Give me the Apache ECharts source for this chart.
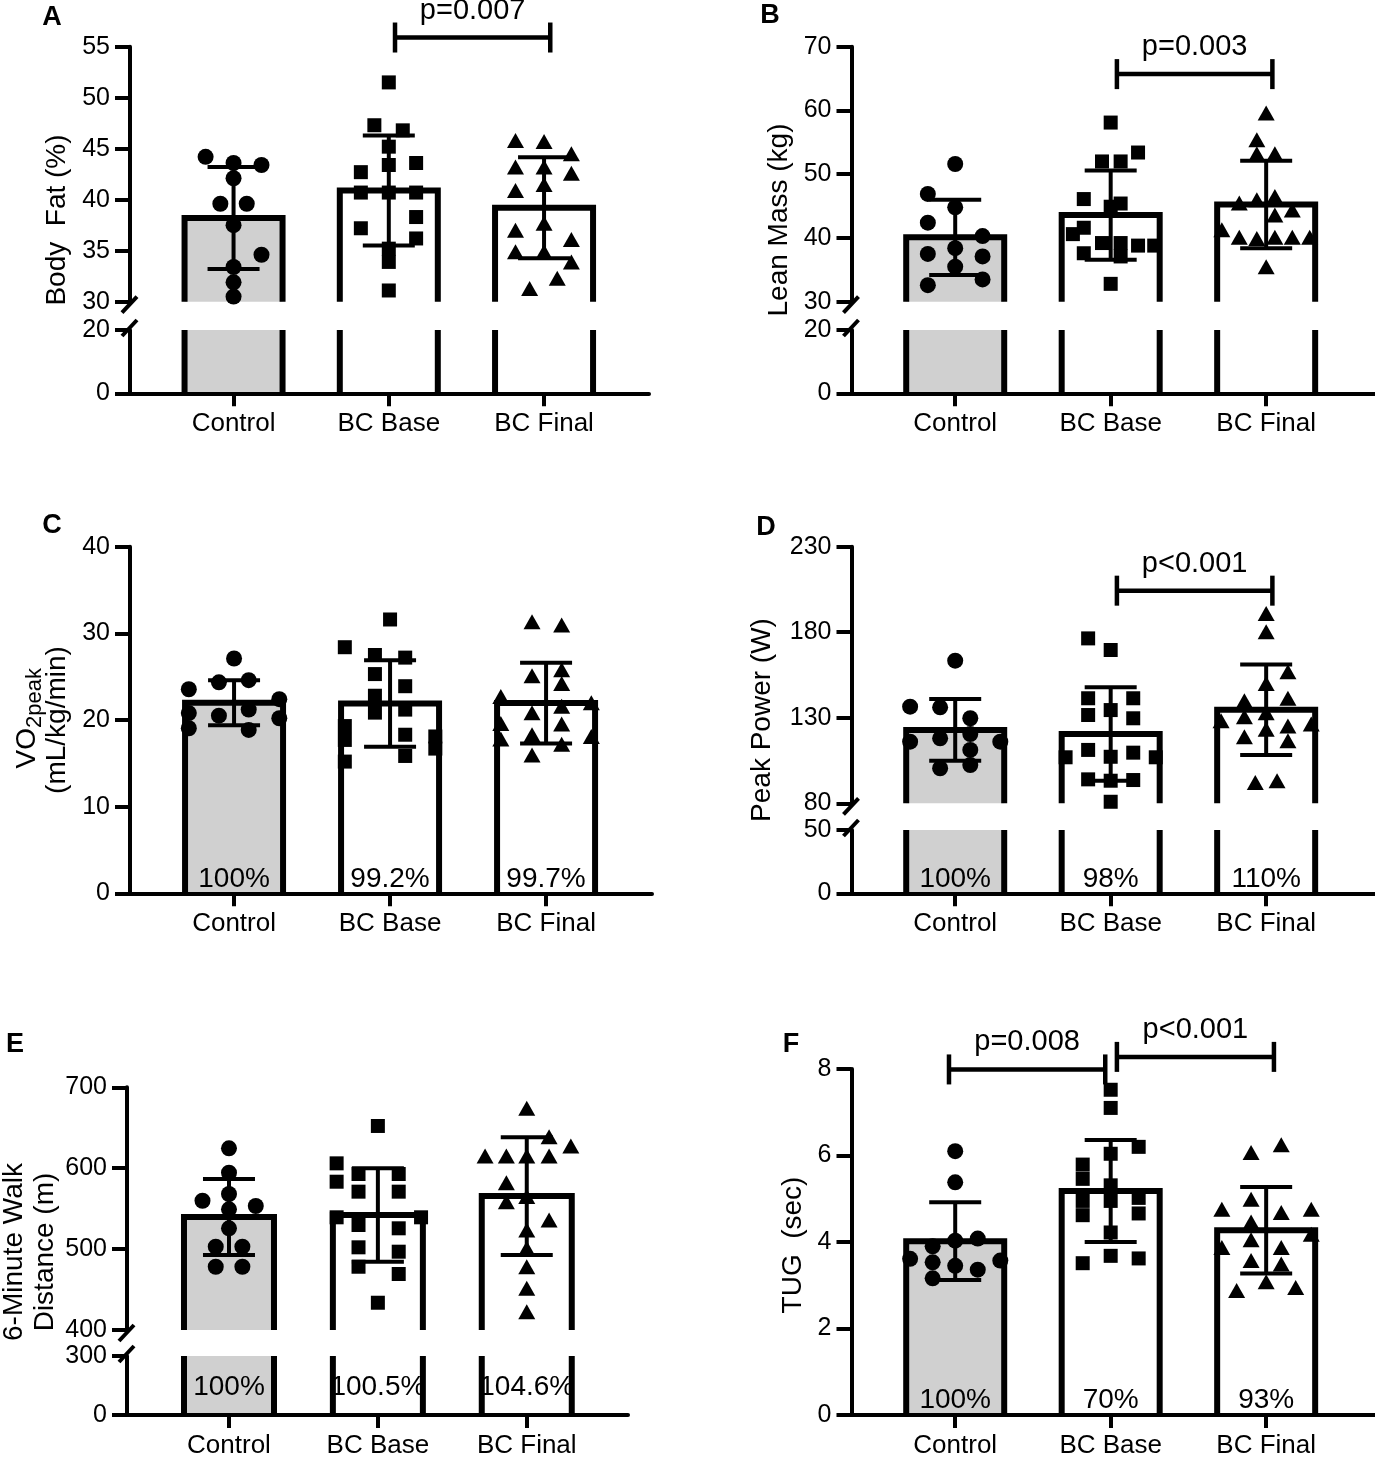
<!DOCTYPE html>
<html>
<head>
<meta charset="utf-8">
<title>Body composition and fitness</title>
<style>
    html, body { margin: 0; padding: 0; background: #fff; }
    #container { width: 1375px; height: 1459px; }
</style>
</head>
<body>
<div id="container"></div>
<script src="https://cdn.jsdelivr.net/npm/echarts@6.0.0/dist/echarts.min.js"></script>
<script type="text/javascript">
    var FONT = "'Liberation Sans', Arial, Helvetica, sans-serif";
    var BLACK = '#000';

    var categories = ['Control', 'BC Base', 'BC Final'];
    var barFills = ['#d0d0d0', '#ffffff', '#ffffff'];

    // each point: [horizontal jitter in category units, value]
    // A - body fat (%)
    var fatTicksUpper = [30, 35, 40, 45, 50, 55];
    var fatTicksLower = [0, 20];
    var fatMean = [38.2, 40.9, 39.2];
    var fatSD = [5.0, 5.4, 4.95];
    var fatControl = [[-0.18, 44.2], [0, 43.6], [0.18, 43.4], [0, 42.1], [-0.085, 39.6], [0.085, 39.6],
        [0, 37.5], [0.18, 34.6], [0, 33.4], [0, 31.9], [0, 30.5]];
    var fatBase = [[0, 51.5], [-0.093, 47.3], [0.09, 46.8], [0, 45.2], [-0.18, 42.7], [0, 43.4], [0.176, 43.6],
        [-0.18, 40.7], [0, 40.7], [0.176, 40.7], [0.176, 38.3], [-0.18, 37.2], [0.176, 36.2], [0, 35.2],
        [0, 33.9], [0, 31.1]];
    var fatFinal = [[-0.184, 45.8], [0, 45.7], [0.176, 44.5], [-0.184, 43.2], [0, 43.2], [0.176, 42.6],
        [-0.184, 40.9], [0, 41.5], [0, 37.7], [-0.184, 37.0], [0.176, 36.1], [-0.184, 34.9], [0, 34.9],
        [0.176, 33.9], [0.085, 32.3], [-0.093, 31.3]];
    var fatBrackets = [[1.04, 2.04, 55.9]];
    var fatP = ['p=0.007'];

    // B - lean mass (kg)
    var leanTicksUpper = [30, 40, 50, 60, 70];
    var leanTicksLower = [0, 20];
    var leanMean = [40.1, 43.6, 45.25];
    var leanSD = [5.9, 7.0, 6.85];
    var leanControl = [[0, 51.6], [-0.176, 46.9], [0, 44.8], [-0.176, 42.4], [0.176, 40.3], [0, 38.4],
        [-0.176, 37.5], [0.176, 37.1], [0, 35.5], [-0.176, 32.6], [0.176, 33.5]];
    var leanBase = [[0, 58.1], [0.176, 53.4], [-0.056, 52.0], [0.064, 52.0], [-0.173, 46.1], [0.064, 45.4],
        [0, 44.9], [-0.173, 41.6], [-0.243, 40.6], [-0.056, 39.2], [0.064, 39.2], [0.176, 38.8], [0.28, 38.8],
        [-0.173, 37.6], [0.064, 37.1], [0, 32.8]];
    var leanFinal = [[0, 59.6], [-0.06, 55.4], [-0.06, 53.2], [0.056, 53.2], [0.056, 46.5], [-0.06, 46.0],
        [-0.173, 45.5], [0.168, 44.4], [0.056, 43.6], [-0.285, 41.3], [-0.173, 40.1], [-0.06, 39.9],
        [0.056, 40.1], [0.168, 40.1], [0.28, 40.1], [0, 35.5]];
    var leanBrackets = [[1.04, 2.04, 65.7]];
    var leanP = ['p=0.003'];

    // C - VO2peak (mL/kg/min)
    var vo2Ticks = [0, 10, 20, 30, 40];
    var vo2Mean = [22.0, 21.9, 21.95];
    var vo2SD = [2.6, 5.0, 4.65];
    var vo2Control = [[0, 27.1], [-0.097, 24.35], [0.094, 24.6], [-0.29, 23.55], [0.29, 22.4], [-0.29, 20.8],
        [-0.097, 20.5], [0.094, 21.2], [0.29, 20.2], [-0.29, 19.05], [0.094, 18.85]];
    var vo2Base = [[0, 31.6], [-0.29, 28.4], [-0.097, 27.5], [0.097, 27.2], [-0.097, 25.3], [0.097, 23.9],
        [-0.097, 22.8], [-0.097, 20.85], [0.097, 21.2], [-0.29, 19.3], [-0.29, 17.7], [-0.29, 15.2],
        [0.097, 18.3], [0.097, 15.85], [0.29, 18.1], [0.29, 16.7]];
    var vo2Final = [[-0.09, 31.35], [0.1, 30.97], [-0.09, 25.1], [0.1, 25.8], [0.1, 24.2], [-0.29, 22.7],
        [0.29, 22.0], [0.1, 21.6], [-0.09, 20.85], [-0.29, 19.6], [0.1, 19.55], [-0.29, 17.8], [-0.09, 18.3],
        [0.29, 18.1], [0.1, 17.2], [-0.09, 15.95]];
    var vo2Pct = ['100%', '99.2%', '99.7%'];

    // D - peak power (W)
    var powerTicksUpper = [80, 130, 180, 230];
    var powerTicksLower = [0, 50];
    var powerMean = [122.9, 120.5, 134.7];
    var powerSD = [18.0, 27.3, 26.5];
    var powerControl = [[0, 163.4], [-0.29, 136.5], [-0.097, 136.1], [0.097, 129.7], [0.097, 120.5],
        [-0.29, 116.0], [-0.097, 118.0], [0.29, 116.0], [0.097, 111.2], [-0.097, 100.5], [0.097, 102.4]];
    var powerBase = [[-0.145, 176.4], [0, 169.6], [-0.145, 141.4], [0.145, 141.4], [-0.145, 131.6],
        [0, 134.5], [0.145, 129.7], [-0.29, 106.9], [-0.145, 111.2], [0, 107.2], [0.145, 109.6],
        [0.29, 106.9], [-0.145, 94.0], [0, 93.2], [0.145, 93.6], [0, 80.9]];
    var powerFinal = [[0, 191.0], [0, 180.3], [0.14, 156.9], [0, 150.1], [-0.14, 140.0], [0.14, 141.4],
        [-0.14, 130.6], [-0.29, 128.3], [0, 133.0], [0.29, 126.4], [-0.14, 118.9], [0, 123.3], [0.14, 125.2],
        [0.14, 116.6], [-0.07, 92.1], [0.07, 93.2]];
    var powerBrackets = [[1.04, 2.04, 204.3]];
    var powerP = ['p<0.001'];
    var powerPct = ['100%', '98%', '110%'];

    // E - 6-minute walk distance (m)
    var walkTicksUpper = [400, 500, 600, 700];
    var walkTicksLower = [0, 300];
    var walkMean = [539.7, 542.2, 565.5];
    var walkSD = [47, 57.8, 72.8];
    var walkControl = [[0, 624.6], [0, 594.4], [-0.178, 559.8], [0.18, 553.3], [0, 568.1], [0, 549.2],
        [0, 525.7], [-0.089, 503], [0.09, 503], [-0.089, 478.2], [0.09, 478.2]];
    var walkBase = [[0, 652.2], [-0.277, 606], [-0.277, 583.3], [-0.13, 592.8], [0.14, 592.8], [-0.13, 571],
        [0.14, 571], [-0.277, 539.3], [0.29, 539.3], [-0.13, 529.8], [0.14, 525.7], [-0.13, 502.2],
        [0.14, 496.8], [-0.13, 478.2], [0.14, 469.2], [0, 433.7]];
    var walkFinal = [[0, 674], [0.15, 638.9], [0.296, 627.4], [-0.28, 615.1], [-0.137, 615.1], [0, 615.1],
        [0.15, 615.1], [-0.137, 582.1], [-0.137, 558.6], [0, 565], [0.15, 536], [0, 523.6], [0, 501],
        [0, 478.2], [0, 451.5], [0, 422.6]];
    var walkPct = ['100%', '100.5%', '104.6%'];

    // F - TUG (sec)
    var tugTicks = [0, 2, 4, 6, 8];
    var tugMean = [4.02, 5.18, 4.27];
    var tugSD = [0.9, 1.18, 1.0];
    var tugControl = [[0, 6.10], [0, 5.38], [-0.145, 3.90], [0, 4.03], [0.145, 4.08], [-0.29, 3.61],
        [-0.145, 3.53], [0, 3.45], [0.145, 3.36], [0.29, 3.57], [-0.145, 3.16]];
    var tugBase = [[0, 7.52], [0, 7.10], [0.18, 6.20], [0, 6.04], [-0.18, 5.79], [-0.18, 5.46], [0, 5.31],
        [0, 4.95], [0.18, 5.02], [-0.18, 4.95], [-0.18, 4.62], [0.18, 4.66], [0, 4.22], [-0.18, 3.51],
        [0, 3.68], [0.18, 3.62]];
    var tugFinal = [[0.097, 6.25], [-0.097, 6.07], [-0.285, 4.76], [0.29, 4.76], [-0.097, 4.99], [0.097, 4.68],
        [-0.097, 4.46], [0.29, 4.18], [-0.097, 4.05], [-0.285, 3.87], [0.097, 3.87], [-0.097, 3.57],
        [0.097, 3.49], [-0.19, 2.88], [0, 3.08], [0.19, 2.95]];
    var tugBrackets = [[-0.04, 0.965, 7.99], [1.04, 2.05, 8.28]];
    var tugP = ['p=0.008', 'p<0.001'];
    var tugPct = ['100%', '70%', '93%'];

    var symbols = ['circle', 'rect', 'triangle'];
    var symbolSizes = [16, 14, [17, 15]];

    var option = {
        animation: false,
        backgroundColor: '#fff',
        textStyle: { fontFamily: FONT, color: BLACK },
        grid: [],
        xAxis: [],
        yAxis: [],
        series: [],
        graphic: []
    };

    function textStyle(text, size, weight) {
        return {
            text: text, fill: BLACK, fontSize: size, fontFamily: FONT, fontWeight: weight || 'normal',
            textAlign: 'center', align: 'center', textVerticalAlign: 'middle', verticalAlign: 'middle'
        };
    }

    // bar outline: open at the bottom, open at the top when the value runs past this grid
    function barItem(yMin, yMax, half) {
        return function (params, api) {
            var x = api.value(0), v = api.value(1);
            var top = Math.min(v, yMax);
            var pb = api.coord([x, yMin]);
            var pt = api.coord([x, top]);
            var l = pb[0] - half, r = pb[0] + half;
            var st = { stroke: BLACK, lineWidth: 6, fill: null, lineJoin: 'miter' };
            var kids = [{
                type: 'rect',
                shape: { x: l, y: pt[1], width: r - l, height: pb[1] - pt[1] },
                style: { fill: barFills[params.dataIndex] }
            }];
            if (v <= yMax) {
                kids.push({ type: 'polyline', shape: { points: [[l, pb[1]], [l, pt[1]], [r, pt[1]], [r, pb[1]]] }, style: st });
            } else {
                kids.push({ type: 'line', shape: { x1: l, y1: pb[1], x2: l, y2: pt[1] }, style: st });
                kids.push({ type: 'line', shape: { x1: r, y1: pb[1], x2: r, y2: pt[1] }, style: st });
            }
            return { type: 'group', children: kids };
        };
    }

    function errorItem(capHalf) {
        return function (params, api) {
            var x = api.value(0), m = api.value(1), s = api.value(2);
            var hi = api.coord([x, m + s]), lo = api.coord([x, m - s]);
            var st = { stroke: BLACK, lineWidth: 4 };
            return {
                type: 'group', children: [
                    { type: 'line', shape: { x1: hi[0], y1: hi[1], x2: lo[0], y2: lo[1] }, style: st },
                    { type: 'line', shape: { x1: hi[0] - capHalf, y1: hi[1], x2: hi[0] + capHalf, y2: hi[1] }, style: st },
                    { type: 'line', shape: { x1: lo[0] - capHalf, y1: lo[1], x2: lo[0] + capHalf, y2: lo[1] }, style: st }
                ]
            };
        };
    }

    function bracketItem(labels) {
        return function (params, api) {
            var a = api.coord([api.value(0), api.value(2)]);
            var b = api.coord([api.value(1), api.value(2)]);
            var st = { stroke: BLACK, lineWidth: 4.5 };
            return {
                type: 'group', children: [
                    { type: 'line', shape: { x1: a[0], y1: a[1], x2: b[0], y2: b[1] }, style: st },
                    { type: 'line', shape: { x1: a[0], y1: a[1] - 15, x2: a[0], y2: a[1] + 15 }, style: st },
                    { type: 'line', shape: { x1: b[0], y1: b[1] - 15, x2: b[0], y2: b[1] + 15 }, style: st },
                    { type: 'text', x: (a[0] + b[0]) / 2, y: a[1] - 27, style: textStyle(labels[params.dataIndex], 29) }
                ]
            };
        };
    }

    function pctItem(labels, yMin, lift) {
        return function (params, api) {
            var p = api.coord([api.value(0), yMin]);
            return { type: 'text', x: p[0], y: p[1] - lift, style: textStyle(labels[params.dataIndex], 28) };
        };
    }

    // axis break slash: dx/dy pairs relative to the axis end
    function slashItem(d) {
        return function (params, api) {
            var p = api.coord([api.value(0), api.value(1)]);
            return {
                type: 'line',
                shape: { x1: p[0] + d[0], y1: p[1] + d[1], x2: p[0] + d[2], y2: p[1] + d[3] },
                style: { stroke: BLACK, lineWidth: 4 }
            };
        };
    }

    function addPanel(p) {
        var parts = p.lower ? [p.upper, p.lower] : [p.upper];
        var gIdx = [];
        parts.forEach(function (part, k) {
            var gi = option.grid.length;
            var isBottom = k === parts.length - 1;
            var yMin = part.ticks[0], yMax = part.ticks[part.ticks.length - 1];
            gIdx.push(gi);
            option.grid.push({ left: p.left, top: part.top, width: p.width, height: part.height });
            option.xAxis.push({
                gridIndex: gi, type: 'value', min: p.xMin, max: p.xMax, show: isBottom, z: 5,
                axisLine: { show: true, onZero: false, lineStyle: { color: BLACK, width: 4 } },
                axisTick: { show: true, customValues: [0, 1, 2], length: 13, lineStyle: { color: BLACK, width: 4 } },
                axisLabel: {
                    customValues: [0, 1, 2], margin: 18, fontSize: 26, color: BLACK, fontFamily: FONT,
                    formatter: function (v) { return categories[Math.round(v)]; }
                },
                splitLine: { show: false }
            });
            option.yAxis.push({
                gridIndex: gi, type: 'value', min: yMin, max: yMax, z: 5,
                axisLine: { show: true, onZero: false, lineStyle: { color: BLACK, width: 4 } },
                axisTick: { show: true, customValues: part.ticks, length: 15, lineStyle: { color: BLACK, width: 4 } },
                axisLabel: { customValues: part.ticks, margin: 20, fontSize: 25, color: BLACK, fontFamily: FONT },
                splitLine: { show: false }
            });
            option.series.push({
                type: 'custom', xAxisIndex: gi, yAxisIndex: gi, silent: true,
                renderItem: barItem(yMin, yMax, p.barHalf),
                data: p.mean.map(function (m, i) { return [i, m]; })
            });
        });
        var up = gIdx[0], bottom = gIdx[gIdx.length - 1];

        p.points.forEach(function (pts, i) {
            option.series.push({
                type: 'scatter', xAxisIndex: up, yAxisIndex: up, silent: true, clip: false,
                symbol: symbols[i], symbolSize: symbolSizes[i],
                itemStyle: { color: BLACK, opacity: 1 },
                data: pts.map(function (d) { return [i + d[0], d[1]]; })
            });
        });

        option.series.push({
            type: 'custom', xAxisIndex: up, yAxisIndex: up, silent: true,
            renderItem: errorItem(26),
            data: p.mean.map(function (m, i) { return [i, m, p.sd[i]]; })
        });

        if (p.brackets) {
            option.series.push({
                type: 'custom', xAxisIndex: up, yAxisIndex: up, silent: true, clip: false,
                renderItem: bracketItem(p.pLabels), data: p.brackets
            });
        }

        if (p.pct) {
            var lowTicks = parts[parts.length - 1].ticks;
            option.series.push({
                type: 'custom', xAxisIndex: bottom, yAxisIndex: bottom, silent: true,
                renderItem: pctItem(p.pct, lowTicks[0], p.pctLift),
                data: [[0], [1], [2]]
            });
        }

        if (p.lower) {
            option.series.push({
                type: 'custom', xAxisIndex: up, yAxisIndex: up, silent: true, clip: false,
                renderItem: slashItem([-8, 11, 7, -5]), data: [[p.xMin, p.upper.ticks[0]]]
            });
            option.series.push({
                type: 'custom', xAxisIndex: bottom, yAxisIndex: bottom, silent: true, clip: false,
                renderItem: slashItem([-8, 6, 7, -10]),
                data: [[p.xMin, p.lower.ticks[p.lower.ticks.length - 1]]]
            });
        }

        option.graphic.push({ type: 'text', x: p.letter[1], y: p.letter[2], style: textStyle(p.letter[0], 27, 'bold') });
        option.graphic.push(p.title);
    }

    function title(x, y, text) {
        var st = textStyle(text, 28);
        st.lineHeight = 31;
        return { type: 'text', x: x, y: y, rotation: Math.PI / 2, style: st };
    }

    addPanel({
        left: 130, width: 519, xMin: -0.667, xMax: 2.676, barHalf: 49,
        upper: { top: 46.7, height: 255, ticks: fatTicksUpper },
        lower: { top: 330, height: 63.3, ticks: fatTicksLower },
        mean: fatMean, sd: fatSD, points: [fatControl, fatBase, fatFinal],
        brackets: fatBrackets, pLabels: fatP,
        letter: ['A', 52, 18], title: title(57, 220, 'Body  Fat (%)')
    });

    addPanel({
        left: 851.5, width: 523.5, xMin: -0.667, xMax: 2.70, barHalf: 49,
        upper: { top: 46.7, height: 255, ticks: leanTicksUpper },
        lower: { top: 330, height: 63.3, ticks: leanTicksLower },
        mean: leanMean, sd: leanSD, points: [leanControl, leanBase, leanFinal],
        brackets: leanBrackets, pLabels: leanP,
        letter: ['B', 770, 16], title: title(779, 220, 'Lean Mass (kg)')
    });

    addPanel({
        left: 130, width: 522, xMin: -0.667, xMax: 2.679, barHalf: 49,
        upper: { top: 546.7, height: 346.6, ticks: vo2Ticks },
        mean: vo2Mean, sd: vo2SD, points: [vo2Control, vo2Base, vo2Final],
        pct: vo2Pct, pctLift: 14,
        letter: ['C', 52, 526],
        title: {
            type: 'group', x: 42, y: 720, rotation: Math.PI / 2,
            children: [
                { type: 'text', x: -8, y: -15, style: { text: 'VO', fill: BLACK, fontSize: 28, fontFamily: FONT, textAlign: 'right', align: 'right', textVerticalAlign: 'middle', verticalAlign: 'middle' } },
                { type: 'text', x: -8, y: -7, style: { text: '2peak', fill: BLACK, fontSize: 22, fontFamily: FONT, textAlign: 'left', align: 'left', textVerticalAlign: 'middle', verticalAlign: 'middle' } },
                { type: 'text', x: 0, y: 15, style: textStyle('(mL/kg/min)', 28) }
            ]
        }
    });

    addPanel({
        left: 851.5, width: 523.5, xMin: -0.667, xMax: 2.70, barHalf: 49,
        upper: { top: 546.7, height: 256.6, ticks: powerTicksUpper },
        lower: { top: 830, height: 63.3, ticks: powerTicksLower },
        mean: powerMean, sd: powerSD, points: [powerControl, powerBase, powerFinal],
        brackets: powerBrackets, pLabels: powerP, pct: powerPct, pctLift: 14,
        letter: ['D', 766, 528], title: title(762, 720, 'Peak Power (W)')
    });

    addPanel({
        left: 127, width: 501, xMin: -0.685, xMax: 2.68, barHalf: 45,
        upper: { top: 1087.3, height: 242.7, ticks: walkTicksUpper },
        lower: { top: 1356, height: 60.7, ticks: walkTicksLower },
        mean: walkMean, sd: walkSD, points: [walkControl, walkBase, walkFinal],
        pct: walkPct, pctLift: 28,
        letter: ['E', 15, 1045], title: title(30, 1252, '6-Minute Walk\nDistance (m)')
    });

    addPanel({
        left: 851.5, width: 523.5, xMin: -0.667, xMax: 2.70, barHalf: 49,
        upper: { top: 1069, height: 347.7, ticks: tugTicks },
        mean: tugMean, sd: tugSD, points: [tugControl, tugBase, tugFinal],
        brackets: tugBrackets, pLabels: tugP, pct: tugPct, pctLift: 15,
        letter: ['F', 791, 1045], title: title(793, 1245, 'TUG  (sec)')
    });

    var myChart = echarts.init(document.getElementById('container'));
    myChart.setOption(option, true);
</script>
</body>
</html>
